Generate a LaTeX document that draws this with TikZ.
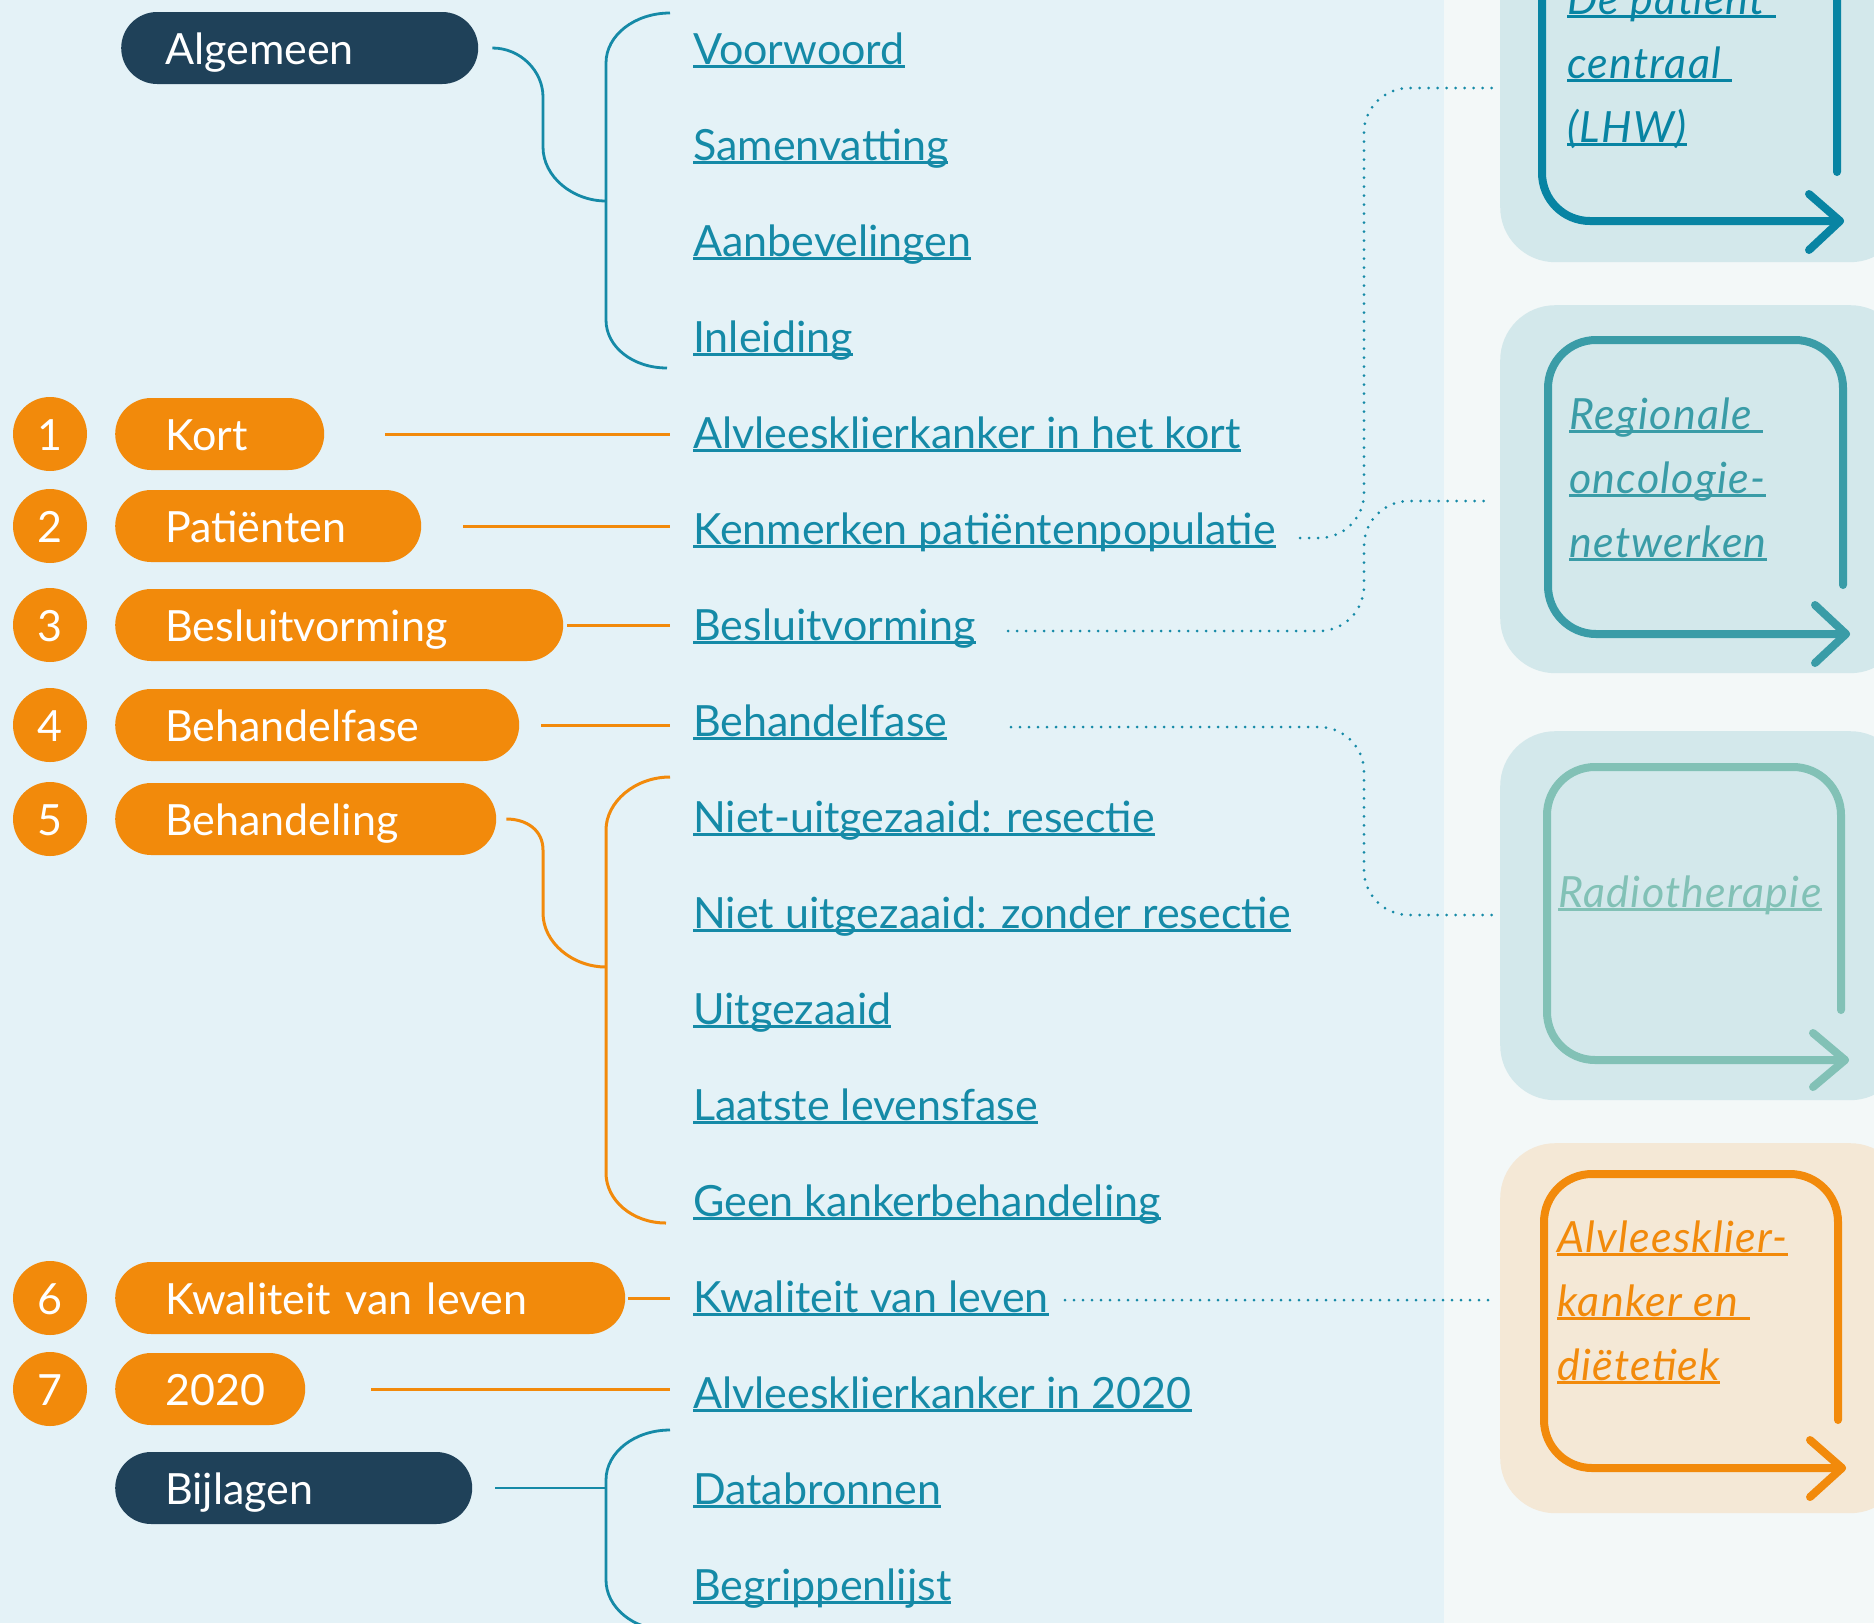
\documentclass[tikz,border=0pt]{standalone}
\usepackage{fontspec}
\setmainfont{Lato}
\usetikzlibrary{calc}
\definecolor{leftbg}{HTML}{E4F2F7}
\definecolor{rightbg}{HTML}{F3F8F8}
\definecolor{navy}{HTML}{1F4159}
\definecolor{orng}{HTML}{F28A0B}
\definecolor{link}{HTML}{158AA7}
\definecolor{cardteal}{HTML}{D3E8EB}
\definecolor{cardbeige}{HTML}{F4E8D6}
\definecolor{fone}{HTML}{0884A3}
\definecolor{ftwo}{HTML}{3A9CA7}
\definecolor{fthree}{HTML}{82C1B6}
\newcommand\ulink[1]{\setbox0=\hbox{#1}\rlap{\rule[-3.8pt]{\wd0}{2.4pt}}\box0}
\newcommand\itemfont{\fontsize{43}{52}\selectfont}
\newcommand\cardfont{\fontsize{43}{64}\selectfont\itshape\addfontfeatures{LetterSpace=3}}
\begin{document}
\begin{tikzpicture}[x=1pt,y=-1pt,
  pill/.style={anchor=west, rounded corners=36pt, minimum height=72pt, inner xsep=50pt, inner ysep=0pt,
    text height=34pt, text depth=2pt, align=left, text=white, font=\itemfont},
  num/.style={circle, fill=orng, minimum size=74pt, inner sep=0pt, text height=34pt, text depth=2pt, text=white, font=\itemfont},
  item/.style={anchor=base west, inner sep=0pt, text=link, font=\itemfont},
  ctext/.style={anchor=base west, inner sep=0pt, font=\cardfont},
  tline/.style={draw=link, line width=2.8pt},
  oline/.style={draw=orng, line width=3pt},
  dots/.style={draw=link, line width=3pt, dash pattern=on 0pt off 9pt, line cap=round, rounded corners=45pt},
  cardbg/.style={anchor=north west, rounded corners=55pt, minimum width=405pt, inner sep=0pt},
  frame/.style={line width=8pt, line cap=round, line join=round, rounded corners=48pt},
  chev/.style={line width=8pt, line cap=round, line join=round}]
\useasboundingbox (0,0) rectangle (1874,1623);
\clip (0,0) rectangle (1874,1623);
\fill[leftbg] (0,0) rectangle (1444,1623);
\fill[rightbg] (1444,0) rectangle (1874,1623);

% cards
\node[cardbg, fill=cardteal, minimum height=382pt] (card1) at (1500,-120) {};
\node[cardbg, fill=cardteal, minimum height=368pt] (card2) at (1500,305) {};
\node[cardbg, fill=cardteal, minimum height=369pt] (card3) at (1500,731) {};
\node[cardbg, fill=cardbeige, minimum height=370pt] (card4) at (1500,1143) {};

\draw[frame, fone] (1837,172) -- (1837,-74) -- (1542,-74) -- (1542,221) -- (1840,221);
\draw[chev, fone] (1809,194) -- (1840,221) -- (1809,250);
\draw[frame, ftwo] (1843,585) -- (1843,340) -- (1548,340) -- (1548,634) -- (1846,634);
\draw[chev, ftwo] (1815,605) -- (1846,634) -- (1815,663);
\draw[frame, fthree] (1841,1010) -- (1841,767) -- (1547,767) -- (1547,1060) -- (1845,1060);
\draw[chev, fthree] (1813,1033) -- (1845,1060) -- (1813,1087);
\draw[frame, orng] (1838,1420) -- (1838,1174) -- (1544,1174) -- (1544,1468) -- (1842,1468);
\draw[chev, orng] (1810,1440) -- (1842,1468) -- (1810,1497);

\node[ctext, text=fone] (c1a) at (1567,14) {\ulink{De patiënt\ }};
\node[ctext, text=fone] (c1b) at (1567,78) {\ulink{centraal\ }};
\node[ctext, text=fone] (c1c) at (1567,142) {\ulink{(LHW)}};
\node[ctext, text=ftwo] (c2a) at (1569,429) {\ulink{Regionale\ }};
\node[ctext, text=ftwo] (c2b) at (1569,493) {\ulink{oncologie-}};
\node[ctext, text=ftwo] (c2c) at (1569,557) {\ulink{netwerken}};
\node[ctext, text=fthree] (c3a) at (1558,907) {\ulink{Radiotherapie}};
\node[ctext, text=orng] (c4a) at (1557,1252) {\ulink{Alvleesklier-}};
\node[ctext, text=orng] (c4b) at (1557,1316) {\ulink{kanker en\ }};
\node[ctext, text=orng] (c4c) at (1557,1380) {\ulink{diëtetiek}};

% pills
\node[pill, fill=navy, text width=269pt, inner xsep=44pt] (alg) at (121,48) {Algemeen};
\node[num] (n1) at (50,434) {1};
\node[pill, fill=orng, text width=109pt] (p1) at (115,434) {Kort};
\node[num] (n2) at (50,526) {2};
\node[pill, fill=orng, text width=206pt] (p2) at (115,526) {Patiënten};
\node[num] (n3) at (50,625) {3};
\node[pill, fill=orng, text width=348pt] (p3) at (115,625) {Besluitvorming};
\node[num] (n4) at (50,725) {4};
\node[pill, fill=orng, text width=304pt] (p4) at (115,725) {Behandelfase};
\node[num] (n5) at (50,819) {5};
\node[pill, fill=orng, text width=281pt] (p5) at (115,819) {Behandeling};
\node[num] (n6) at (50,1298) {6};
\node[pill, fill=orng, text width=410pt] (p6) at (115,1298) {Kwaliteit van leven};
\node[num] (n7) at (50,1389) {7};
\node[pill, fill=orng, text width=90pt] (p7) at (115,1389) {2020};
\node[pill, fill=navy, text width=257pt] (bij) at (115,1488) {Bijlagen};

% items
\node[item] (i0) at (693,64) {\ulink{Voorwoord}};
\node[item] (i1) at (693,160) {\ulink{Samenvatting}};
\node[item] (i2) at (693,256) {\ulink{Aanbevelingen}};
\node[item] (i3) at (693,352) {\ulink{Inleiding}};
\node[item] (i4) at (693,448) {\ulink{Alvleesklierkanker in het kort}};
\node[item] (i5) at (693,544) {\ulink{Kenmerken patiëntenpopulatie}};
\node[item] (i6) at (693,640) {\ulink{Besluitvorming}};
\node[item] (i7) at (693,736) {\ulink{Behandelfase}};
\node[item] (i8) at (693,832) {\ulink{Niet-uitgezaaid: resectie}};
\node[item] (i9) at (693,928) {\ulink{Niet uitgezaaid: zonder resectie}};
\node[item] (i10) at (693,1024) {\ulink{Uitgezaaid}};
\node[item] (i11) at (693,1120) {\ulink{Laatste levensfase}};
\node[item] (i12) at (693,1216) {\ulink{Geen kankerbehandeling}};
\node[item] (i13) at (693,1312) {\ulink{Kwaliteit van leven}};
\node[item] (i14) at (693,1408) {\ulink{Alvleesklierkanker in 2020}};
\node[item] (i15) at (693,1504) {\ulink{Databronnen}};
\node[item] (i16) at (693,1600) {\ulink{Begrippenlijst}};

% teal brackets
\draw[tline] ([xshift=14pt]alg.east) .. controls +(28,0) and +(0,-26) .. (543,97) -- (543,147) .. controls +(0,30) and +(-33,0) .. (606,201);
\draw[tline] (670,13) .. controls +(-35,0) and +(0,-28) .. (606,63) -- (606,320) .. controls +(0,27) and +(-34,0) .. (667,368);
\draw[tline] ([xshift=23pt]bij.east) -- (606,1488);
\draw[tline] (670,1430) .. controls +(-35,0) and +(0,-28) .. (606,1480) -- (606,1580) .. controls +(0,27) and +(-34,0) .. (667,1630);

% orange connectors
\draw[oline] ([xshift=61pt]p1.east) -- ([xshift=-23pt]p1.east -| i4.west);
\draw[oline] ([xshift=42pt]p2.east) -- ([xshift=-23pt]p2.east -| i5.west);
\draw[oline] ([xshift=4pt]p3.east) -- ([xshift=-23pt]p3.east -| i6.west);
\draw[oline] ([xshift=22pt]p4.east) -- ([xshift=-23pt]p4.east -| i7.west);
\draw[oline] ([xshift=3pt]p6.east) -- ([xshift=-23pt]p6.east -| i13.west);
\draw[oline] ([xshift=66pt]p7.east) -- ([xshift=-23pt]p7.east -| i14.west);
\draw[oline] ([xshift=10pt]p5.east) .. controls +(20,0) and +(0,-20) .. (543,850) -- (543,913) .. controls +(0,30) and +(-33,0) .. (606,967);
\draw[oline] (670,777) .. controls +(-35,0) and +(0,-28) .. (606,830) -- (606,1173) .. controls +(0,27) and +(-34,0) .. (666,1223);

% dotted links
\coordinate (s5) at (1300,538);
\coordinate (s6) at (1008,631);
\coordinate (s7) at (1011,727);
\coordinate (s13) at (1065,1300);
\coordinate (e1) at (1492,88);
\coordinate (e2) at (1492,501);
\coordinate (e3) at (1492,915);
\coordinate (e4) at (1492,1300);
\draw[dots] (s5) -| (1364,88) -- (e1);
\draw[dots] (s6) -| (1364,501) -- (e2);
\draw[dots] (s7) -| (1364,915) -- (e3);
\draw[dots] (s13) -- (e4);
\end{tikzpicture}
\end{document}
